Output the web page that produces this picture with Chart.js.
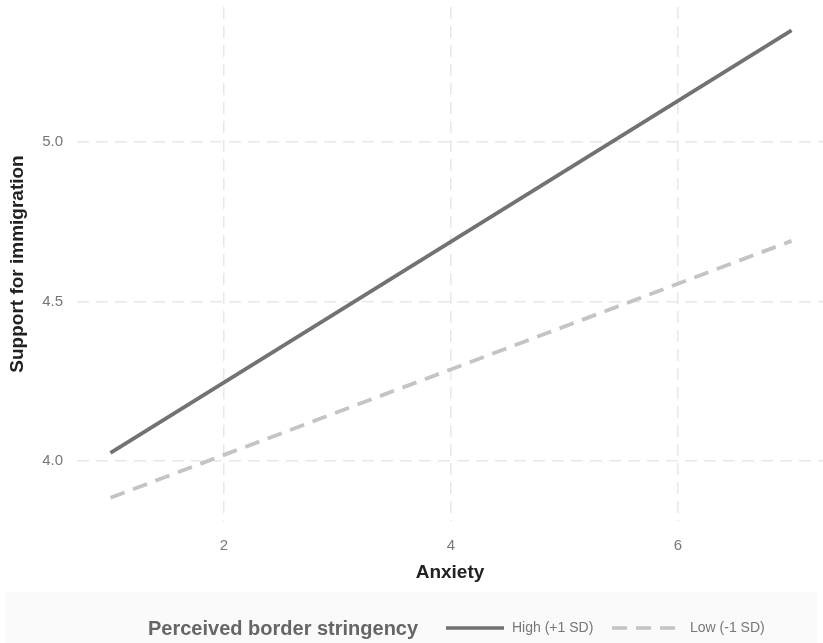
<!DOCTYPE html>
<html>
<head>
<meta charset="utf-8">
<script src="https://cdn.jsdelivr.net/npm/chart.js@4.4.0/dist/chart.umd.min.js"></script>
<style>
  html, body { margin: 0; padding: 0; background: #ffffff; }
  #wrap { position: relative; width: 823px; height: 643px; }
</style>
</head>
<body>
<div id="wrap"><canvas id="chart" width="823" height="643"></canvas></div>
<script>
// Values
const anxiety = [1, 7];
const highSD = [4.025, 5.351];
const lowSD = [3.884, 4.690];
const seriesNames = ['High (+1 SD)', 'Low (-1 SD)'];
const xTicks = [2, 4, 6];
const yTicks = [4.0, 4.5, 5.0];
const legendTitle = 'Perceived border stringency';

const FONT = "'Liberation Sans', Arial, sans-serif";

function toPoints(xs, ys) {
    return xs.map((x, i) => ({ x: x, y: ys[i] }));
}

// no extra room for edge tick labels, the plot box is fixed
function noPad(s) {
    s.paddingTop = 0;
    s.paddingBottom = 0;
    s.paddingLeft = 0;
    s.paddingRight = 0;
}

// Legend drawn in the grey band under the plot
const bottomLegend = {
    id: 'bottomLegend',
    beforeDraw(chart) {
        const c = chart.ctx;
        c.save();
        c.fillStyle = '#fafafa';
        c.fillRect(6, 592, chart.width - 12, 51);
        c.restore();
    },
    afterDraw(chart) {
        const c = chart.ctx;
        const y = 628;
        c.save();
        c.textBaseline = 'middle';
        c.fillStyle = '#666666';
        c.font = 'bold 20px ' + FONT;
        c.fillText(legendTitle, 148, y + 1);

        const items = [
            { ds: chart.data.datasets[0], x0: 446, x1: 504, tx: 512 },
            { ds: chart.data.datasets[1], x0: 612, x1: 676, tx: 690 }
        ];
        c.font = '14px ' + FONT;
        items.forEach(it => {
            c.beginPath();
            c.strokeStyle = it.ds.borderColor;
            c.lineWidth = 3.5;
            c.setLineDash(it.ds.borderDash || []);
            c.moveTo(it.x0, y);
            c.lineTo(it.x1, y);
            c.stroke();
            c.setLineDash([]);
            c.fillStyle = '#777777';
            c.fillText(it.ds.label, it.tx, y);
        });
        c.restore();
    }
};

const config = {
    type: 'scatter',
    data: {
        datasets: [
            {
                label: seriesNames[0],
                data: toPoints(anxiety, highSD),
                showLine: true,
                borderColor: '#727272',
                borderWidth: 3.8,
                pointRadius: 0,
                borderCapStyle: 'butt'
            },
            {
                label: seriesNames[1],
                data: toPoints(anxiety, lowSD),
                showLine: true,
                borderColor: '#c4c4c4',
                borderWidth: 3.8,
                borderDash: [15, 9],
                pointRadius: 0,
                borderCapStyle: 'butt'
            }
        ]
    },
    options: {
        responsive: false,
        animation: false,
        layout: { padding: { top: 7, right: 0, bottom: 53, left: 0 } },
        plugins: {
            legend: { display: false },
            tooltip: { enabled: false }
        },
        scales: {
            x: {
                type: 'linear',
                min: 0.705,
                max: 7.277,
                afterBuildTicks: s => { s.ticks = xTicks.map(v => ({ value: v })); },
                afterFit: s => { s.height = 69; noPad(s); },
                ticks: {
                    color: '#777777',
                    font: { family: FONT, size: 15 },
                    padding: 16,
                    callback: v => String(v)
                },
                grid: { color: '#e8e8e8', lineWidth: 1.5, drawTicks: false },
                border: { display: false, dash: [12, 7] },
                title: {
                    display: true,
                    text: 'Anxiety',
                    color: '#222222',
                    font: { family: FONT, size: 19, weight: 'bold' },
                    padding: { top: 0, bottom: 6 }
                }
            },
            y: {
                type: 'linear',
                min: 3.811,
                max: 5.424,
                afterBuildTicks: s => { s.ticks = yTicks.map(v => ({ value: v })); },
                afterFit: s => { s.width = 77; noPad(s); },
                ticks: {
                    color: '#777777',
                    font: { family: FONT, size: 15 },
                    padding: 14,
                    callback: v => v.toFixed(1)
                },
                grid: { color: '#e8e8e8', lineWidth: 1.5, drawTicks: false },
                border: { display: false, dash: [12, 7] },
                title: {
                    display: true,
                    text: 'Support for immigration',
                    color: '#222222',
                    font: { family: FONT, size: 19, weight: 'bold' },
                    padding: { top: 6, bottom: 0 }
                }
            }
        }
    },
    plugins: [bottomLegend]
};

new Chart(document.getElementById('chart'), config);
</script>
</body>
</html>
